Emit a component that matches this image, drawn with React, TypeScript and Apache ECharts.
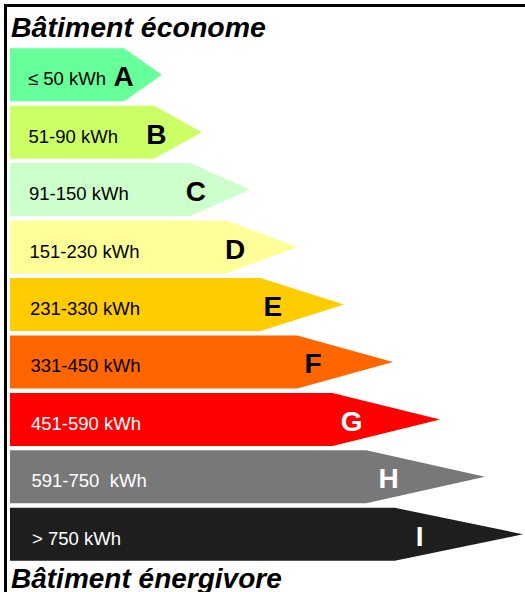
import React, { useEffect, useRef } from "react";
import * as echarts from "echarts";

const classes = ["A", "B", "C", "D", "E", "F", "G", "H", "I"];
const ranges = [
  "≤ 50 kWh",
  "51-90 kWh",
  "91-150 kWh",
  "151-230 kWh",
  "231-330 kWh",
  "331-450 kWh",
  "451-590 kWh",
  "591-750  kWh",
  "> 750 kWh",
];
// arrow lengths (relative units)
const lengths = [152, 192, 240, 288, 334, 383, 430, 475, 513];
const colors = ["#66FF99", "#CCFF66", "#CCFFCC", "#FFFF99", "#FFCC00", "#FF6600", "#FF0000", "#787878", "#1E1E1E"];
const rangeTextColors = ["#000", "#000", "#000", "#000", "#000", "#000", "#fff", "#fff", "#fff"];
const letterColors = ["#000", "#000", "#000", "#000", "#000", "#000", "#fff", "#fff", "#fff"];
const topTitle = "Bâtiment économe";
const bottomTitle = "Bâtiment énergivore";

const FONT = "'Liberation Sans', Arial, Helvetica, sans-serif";

export default function App() {
  const ref = useRef<HTMLDivElement>(null);
  useEffect(() => {
    if (!ref.current) return;
    const chart = echarts.init(ref.current, null, { renderer: "svg" });
    const data = lengths.map((v, i) => [v, i]);
    chart.setOption({
      animation: false,
      backgroundColor: "#ffffff",
      grid: { left: 10, right: 0, top: 46, height: 517 },
      xAxis: { type: "value", min: 0, max: 515, show: false },
      yAxis: { type: "category", data: classes, inverse: true, show: false },
      series: [
        {
          type: "custom",
          data,
          encode: { x: 0, y: 1 },
          renderItem: (params: any, api: any) => {
            const idx = api.value(1) as number;
            const tip = api.coord([api.value(0), idx]);
            const start = api.coord([0, idx]);
            const band = api.size([0, 1])[1];
            const h = band * 0.923;
            const cy = tip[1];
            const x0 = start[0];
            const L = tip[0] - x0;
            const bodyEnd = x0 + 0.75 * L;
            return {
              type: "group",
              children: [
                {
                  type: "polygon",
                  shape: {
                    points: [
                      [x0, cy - h / 2],
                      [bodyEnd, cy - h / 2],
                      [tip[0], cy],
                      [bodyEnd, cy + h / 2],
                      [x0, cy + h / 2],
                    ],
                  },
                  style: { fill: colors[idx] },
                },
                {
                  type: "text",
                  x: x0 + 18 + idx * 0.5,
                  y: cy + 4,
                  style: {
                    text: ranges[idx],
                    fill: rangeTextColors[idx],
                    font: `18.5px ${FONT}`,
                    align: "left",
                    verticalAlign: "middle",
                  },
                },
                {
                  type: "text",
                  x: x0 + 0.82 * L - 11,
                  y: cy + 2,
                  style: {
                    text: classes[idx],
                    fill: letterColors[idx],
                    font: `bold 28px ${FONT}`,
                    align: "center",
                    verticalAlign: "middle",
                  },
                },
              ],
            };
          },
        },
      ],
      graphic: [
        {
          type: "line",
          shape: { x1: 4, y1: 5.5, x2: 525, y2: 5.5 },
          style: { stroke: "#000", lineWidth: 3 },
        },
        {
          type: "line",
          shape: { x1: 5.5, y1: 4, x2: 5.5, y2: 592 },
          style: { stroke: "#000", lineWidth: 3 },
        },
        {
          type: "text",
          x: 11,
          y: 26.5,
          style: {
            text: topTitle,
            fill: "#000",
            font: `italic bold 28.5px ${FONT}`,
            align: "left",
            verticalAlign: "middle",
          },
        },
        {
          type: "text",
          x: 11,
          y: 578,
          style: {
            text: bottomTitle,
            fill: "#000",
            font: `italic bold 28px ${FONT}`,
            align: "left",
            verticalAlign: "middle",
          },
        },
      ],
    });
    return () => chart.dispose();
  }, []);
  return (
    <div
      ref={ref}
      style={{ position: "absolute", left: 0, top: 0, width: 525, height: 592, overflow: "hidden" }}
    />
  );
}
